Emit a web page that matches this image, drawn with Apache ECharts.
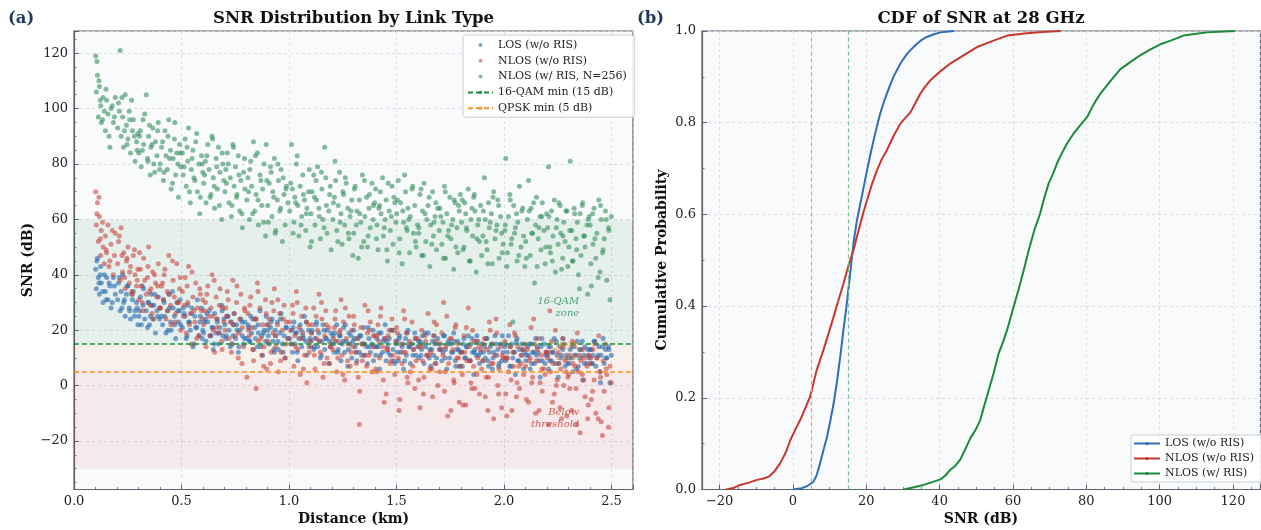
<!DOCTYPE html>
<html>
<head>
<meta charset="utf-8">
<script src="https://cdn.jsdelivr.net/npm/echarts@6/dist/echarts.min.js"></script>
<style>html,body{margin:0;padding:0;background:#fff}#c{width:1261px;height:530px}</style>
</head>
<body>
<div id="c"></div>
<script>
// ---------------- DATA ----------------
// Batch 1 of sampled links: distance (km) and SNR (dB) for each link type
const distanceKm = [
0.101,0.104,0.109,0.113,0.118,0.124,0.127,0.135,0.141,0.146,0.152,0.158,0.167,0.172,0.183,0.192,
0.203,0.207,0.215,0.219,0.226,0.231,0.238,0.244,0.251,0.257,0.263,0.272,0.276,0.284,0.291,0.297,
0.302,0.309,0.313,0.321,0.324,0.336,0.342,0.347,0.355,0.358,0.366,0.371,0.379,0.386,0.392,0.398,
0.401,0.412,0.416,0.423,0.428,0.434,0.441,0.449,0.452,0.461,0.467,0.473,0.478,0.486,0.491,0.496,
0.504,0.508,0.517,0.522,0.529,0.533,0.541,0.546,0.553,0.562,0.566,0.574,0.581,0.585,0.593,0.599,
0.603,0.611,0.614,0.622,0.628,0.637,0.642,0.648,0.654,0.661,0.667,0.672,0.679,0.687,0.692,0.697,
0.702,0.706,0.713,0.721,0.727,0.732,0.739,0.745,0.751,0.756,0.764,0.771,0.776,0.783,0.789,0.795,
0.804,0.809,0.816,0.822,0.826,0.835,0.841,0.847,0.853,0.858,0.865,0.873,0.877,0.884,0.891,0.897,
0.901,0.908,0.914,0.921,0.925,0.932,0.938,0.946,0.951,0.957,0.963,0.969,0.977,0.982,0.988,0.995,
1.003,1.012,1.016,1.023,1.027,1.034,1.041,1.046,1.052,1.059,1.064,1.072,1.078,1.083,1.091,1.098,
1.102,1.107,1.115,1.121,1.128,1.133,1.139,1.146,1.153,1.158,1.166,1.171,1.177,1.185,1.189,1.196,
1.204,1.211,1.217,1.222,1.229,1.235,1.242,1.247,1.254,1.259,1.266,1.273,1.279,1.284,1.292,1.297,
1.301,1.308,1.316,1.322,1.327,1.334,1.341,1.348,1.353,1.361,1.365,1.372,1.378,1.386,1.391,1.398,
1.403,1.409,1.414,1.421,1.428,1.435,1.439,1.447,1.452,1.458,1.466,1.471,1.479,1.484,1.492,1.497,
1.501,1.508,1.515,1.519,1.526,1.533,1.542,1.546,1.553,1.561,1.564,1.572,1.579,1.585,1.591,1.598,
1.604,1.609,1.617,1.621,1.628,1.636,1.641,1.647,1.655,1.659,1.668,1.672,1.679,1.686,1.692,1.699,
1.702,1.711,1.716,1.723,1.728,1.734,1.742,1.748,1.753,1.762,1.766,1.773,1.781,1.785,1.792,1.797,
1.803,1.806,1.814,1.822,1.827,1.834,1.839,1.846,1.854,1.859,1.865,1.871,1.878,1.886,1.891,1.896,
1.902,1.909,1.913,1.921,1.928,1.932,1.941,1.946,1.952,1.958,1.967,1.971,1.977,1.984,1.989,1.996,
2.004,2.008,2.016,2.021,2.027,2.036,2.041,2.045,2.053,2.061,2.064,2.072,2.079,2.083,2.091,2.097,
2.101,2.109,2.114,2.122,2.126,2.133,2.142,2.147,2.151,2.159,2.168,2.172,2.178,2.186,2.191,2.198,
2.203,2.207,2.216,2.221,2.228,2.234,2.239,2.247,2.252,2.261,2.264,2.273,2.278,2.284,2.292,2.297,
2.302,2.308,2.315,2.321,2.326,2.335,2.341,2.346,2.354,2.358,2.366,2.371,2.377,2.386,2.389,2.396,
2.401,2.406,2.414,2.419,2.427,2.432,2.441,2.446,2.452,2.461,2.466,2.472,2.478,2.486,2.493,2.499
];
const snrLOS = [
42,35,46,39,33,43,37,30,40,34,39,31,36,28,39,33,
31,37,27,34,40,30,25,33,36,28,24,31,34,27,30,22,
25,32,22,29,35,27,21,30,25,33,24,29,19,27,32,24,
28,22,31,25,19,27,33,23,20,28,25,17,30,23,27,22,
21,28,25,17,29,23,20,26,14,25,21,31,18,23,28,20,
19,24,16,23,27,18,21,13,26,19,23,15,21,29,18,24,
22,17,25,20,14,23,18,26,17,22,12,20,24,18,15,23,
17,22,16,25,19,13,21,24,14,19,27,18,11,20,16,22,
20,15,21,24,16,12,18,23,13,19,26,15,18,10,21,17,
17,20,12,23,15,19,9,17,22,14,18,25,16,11,20,17,
16,20,13,17,23,14,19,10,16,22,13,17,20,8,16,19,
18,12,16,22,13,18,9,15,21,12,16,7,19,15,10,16,
20,14,9,17,12,18,15,21,11,14,8,17,12,15,20,14,
11,17,14,6,19,12,16,22,9,14,17,11,20,13,8,15,
16,9,18,12,14,6,17,11,20,14,8,15,13,19,11,14,
10,16,13,18,8,14,11,19,13,7,16,11,15,10,17,13,
15,9,12,18,13,6,16,10,15,12,19,9,13,16,7,12,
12,7,17,10,14,18,9,15,12,4,13,11,16,8,12,15,
9,14,10,17,7,12,15,6,12,18,11,13,8,15,9,12,
14,9,12,18,7,15,10,12,4,17,9,13,11,15,6,12,
9,14,11,6,15,12,8,17,11,12,3,14,9,15,8,12,
11,6,14,9,12,17,8,11,3,14,10,13,15,7,11,8,
8,13,10,5,14,11,16,7,10,13,2,11,14,8,13,10,
13,8,11,16,7,10,14,5,11,17,8,13,10,14,1,11
];
const snrNLOS = [
70,58,66,52,61,47,56,50,44,54,48,58,45,51,40,55,
44,52,38,57,41,48,35,45,50,37,43,33,47,40,36,42,
31,42,36,27,46,33,39,50,29,35,41,24,37,32,44,28,
28,37,31,42,24,34,47,29,22,38,32,26,44,30,35,20,
34,25,39,19,30,43,26,15,32,23,37,28,18,35,27,31,
22,30,14,36,25,28,40,20,12,32,24,19,35,16,28,23,
20,28,34,17,23,12,38,26,18,30,10,24,33,21,14,27,
3,26,18,32,21,9,24,-1,37,16,28,11,22,14,31,6,
16,24,8,30,19,35,14,22,5,26,12,20,29,10,23,17,
23,15,29,7,18,34,13,21,4,25,19,11,28,1,22,16,
14,22,28,6,17,20,33,12,24,3,18,27,10,21,8,15,
13,21,27,5,16,19,31,11,23,2,17,9,25,7,20,14,
25,12,17,3,-14,21,9,15,29,7,19,11,23,5,14,18,
6,18,22,10,28,14,2,17,-3,13,20,8,24,11,4,16,
21,10,-5,15,8,27,12,19,1,16,5,23,13,-1,9,17,
14,-8,20,9,3,16,11,26,6,12,-4,18,8,22,0,15,
5,19,11,-2,14,25,8,17,-9,13,2,21,10,15,-6,7,
12,4,18,-7,9,28,14,1,20,7,-1,16,10,-3,13,6,
9,17,-4,13,3,23,8,15,-12,11,19,0,6,14,-8,10,
16,-3,10,5,22,-9,12,7,18,1,14,-1,8,11,4,15,
7,13,-6,10,21,3,15,-10,9,17,1,11,-2,6,4,12,
10,-14,5,16,8,-3,20,2,12,-8,6,14,0,9,-11,3,
4,11,-9,8,15,-1,19,5,-17,9,13,2,-4,7,-12,11,
8,-5,13,2,-10,10,18,5,-13,9,-2,15,4,-15,7,1
];
const snrRIS = [
119,106,112,97,108,101,95,104,99,92,103,98,86,100,95,104,
93,102,121,90,97,86,105,94,89,99,84,92,96,81,88,91,
84,92,79,96,87,105,82,90,76,86,93,80,88,83,95,78,
80,88,74,92,83,78,96,85,71,82,89,76,84,68,87,79,
84,76,89,72,81,93,66,78,85,74,88,70,80,62,83,77,
73,81,66,87,78,69,90,75,64,82,71,86,77,60,80,74,
70,78,84,66,75,61,87,72,79,68,83,63,74,57,77,71,
67,75,60,81,72,88,63,69,84,58,76,65,71,80,54,74,
65,73,79,61,70,82,56,67,74,63,78,52,69,58,72,66,
63,87,71,59,68,80,65,54,72,61,76,67,56,64,70,50,
62,70,76,58,67,79,64,53,71,60,86,75,55,63,69,49,
60,68,74,56,65,77,62,51,69,58,73,64,53,61,67,47,
55,72,63,46,67,59,76,52,61,68,50,64,57,73,60,66,
71,58,49,65,62,75,54,60,67,45,63,56,72,51,66,59,
62,74,53,66,44,59,70,57,64,48,61,71,55,65,50,58,
57,69,47,63,73,52,60,65,43,58,70,54,61,49,64,56,
64,51,59,72,46,62,56,68,53,60,42,66,57,48,63,69,
59,67,50,62,56,71,45,60,54,68,63,41,58,52,65,47,
54,75,60,49,66,57,62,44,70,53,58,67,46,61,55,51,
56,82,48,61,69,53,23,65,57,45,59,72,50,63,54,43,
52,60,74,47,64,55,37,58,68,53,61,49,66,56,44,62,
57,79,48,63,54,67,41,60,51,65,55,46,59,52,63,43,
50,81,56,45,64,53,59,40,62,47,66,54,50,58,33,61,
58,36,51,64,46,55,67,41,60,49,53,63,38,57,31,61
];
// Batch 2 of sampled links
const distanceKm2 = [
0.106,0.116,0.122,0.133,0.149,0.163,0.178,0.188,
0.211,0.223,0.235,0.247,0.259,0.268,0.281,0.294,
0.305,0.318,0.329,0.344,0.351,0.363,0.375,0.389,
0.407,0.419,0.437,0.444,0.458,0.469,0.483,0.494,
0.512,0.526,0.537,0.549,0.558,0.571,0.588,0.596,
0.607,0.618,0.633,0.645,0.652,0.664,0.676,0.689,
0.709,0.717,0.735,0.742,0.758,0.767,0.781,0.793,
0.812,0.818,0.831,0.844,0.856,0.869,0.882,0.894,
0.904,0.917,0.929,0.936,0.948,0.961,0.973,0.986,
1.008,1.019,1.031,1.038,1.056,1.067,1.081,1.094,
1.105,1.118,1.126,1.141,1.151,1.163,1.174,1.192,
1.207,1.214,1.227,1.238,1.251,1.262,1.276,1.288,
1.304,1.313,1.329,1.338,1.351,1.368,1.374,1.393,
1.407,1.418,1.425,1.443,1.455,1.461,1.476,1.488,
1.504,1.512,1.529,1.538,1.549,1.557,1.576,1.588,
1.603,1.614,1.625,1.633,1.652,1.664,1.675,1.683,
1.706,1.719,1.727,1.738,1.756,1.768,1.776,1.789,
1.809,1.817,1.825,1.843,1.851,1.862,1.874,1.883,
1.904,1.917,1.925,1.936,1.949,1.963,1.975,1.992,
2.006,2.013,2.029,2.033,2.049,2.058,2.069,2.087,
2.104,2.117,2.129,2.138,2.154,2.163,2.176,2.194,
2.209,2.213,2.225,2.243,2.255,2.268,2.274,2.289,
2.306,2.318,2.329,2.338,2.351,2.364,2.374,2.392,
2.404,2.412,2.423,2.438,2.449,2.458,2.475,2.488
];
const snrLOS2 = [
45,37,40,34,31,37,30,36,
39,28,31,36,27,33,25,28,
27,36,24,30,22,29,33,25,
25,30,20,28,34,22,27,31,
26,18,23,28,15,21,25,17,
23,26,18,21,15,24,19,27,
18,25,15,22,20,14,23,17,
21,16,24,17,22,14,19,25,
18,23,13,20,16,24,12,21,
15,21,19,12,20,17,23,14,
19,14,22,16,11,20,17,14,
15,19,12,18,16,22,13,18,
17,12,18,11,15,21,14,9,
14,19,11,17,16,12,20,9,
12,17,15,9,19,14,11,17,
16,11,15,19,10,13,18,8,
13,18,10,15,12,16,7,13,
15,10,14,9,17,12,18,11,
12,17,9,14,10,15,7,18,
15,10,14,7,12,16,9,13,
11,15,8,12,14,9,17,11,
14,9,12,16,8,11,17,10,
10,14,11,6,13,16,8,11,
13,8,16,11,1,14,10,13
];
const snrNLOS2 = [
62,68,53,59,49,43,56,47,
54,47,39,46,41,34,49,38,
48,30,38,43,34,26,40,36,
36,40,27,33,45,23,30,39,
29,36,22,41,27,17,33,24,
27,33,18,25,38,21,29,13,
25,31,15,22,36,19,8,28,
20,29,13,24,34,17,7,26,
22,12,27,18,31,9,24,15,
20,26,14,30,17,6,23,12,
19,11,25,16,30,8,22,14,
17,24,10,20,4,28,15,12,
22,8,-2,15,11,27,20,18,
5,16,25,-6,13,18,9,20,
19,-9,12,24,3,15,7,17,
2,14,-3,18,11,6,23,16,
13,30,5,-11,17,1,22,10,
-7,12,21,9,-1,16,4,14,
15,3,-9,20,8,24,-3,11,
10,-11,14,2,19,-4,7,13,
-5,9,1,24,13,-9,6,12,
12,27,-6,0,8,-12,17,5,
-1,16,7,-14,11,4,10,-7,
10,-2,15,-12,3,-18,6,-8
];
const snrRIS2 = [
117,110,103,96,107,90,101,97,
99,104,92,87,96,103,90,85,
90,85,98,81,94,87,77,92,
86,77,90,82,73,95,80,84,
79,86,70,82,75,91,68,80,
76,83,68,89,72,79,65,84,
73,80,65,86,69,76,62,82,
70,78,62,83,67,74,59,87,
59,77,68,55,80,64,75,71,
73,55,66,83,58,69,62,78,
52,68,74,61,77,57,65,72,
66,81,52,59,70,75,55,63,
71,58,62,50,74,54,69,65,
53,64,70,57,49,73,61,68,
67,48,63,76,56,60,72,52,
55,71,47,62,68,51,59,66,
61,46,70,54,58,67,50,65,
49,66,57,45,64,69,53,60,
63,52,44,59,68,56,65,48,
58,43,67,51,55,62,47,64,
46,63,55,66,43,57,61,50,
61,50,45,57,66,42,54,63,
56,45,62,49,35,65,54,60,
44,62,53,39,65,48,60,56
];
// CDF readings: [SNR dB, cumulative probability]
const cdfLOS = [[0,0],[2,0.002],[3.8,0.007],[5.6,0.017],[6.5,0.032],[7.4,0.057],[8.3,0.085],[9.3,0.115],[10.2,0.15],[11.1,0.188],[12,0.235],[12.9,0.29],[13.8,0.35],[14.7,0.406],[15.6,0.47],[16.5,0.537],[17.4,0.585],[18.4,0.624],[19.3,0.66],[20.2,0.696],[21.1,0.73],[22,0.762],[22.9,0.792],[23.8,0.82],[24.7,0.843],[25.6,0.863],[26.5,0.882],[27.4,0.9],[29.3,0.929],[31.1,0.95],[32.5,0.962],[33.8,0.972],[35,0.98],[36.5,0.987],[38.5,0.993],[40.2,0.997],[44,1]];
const cdfNLOS = [[-18.2,0],[-16,0.004],[-14.4,0.01],[-12,0.015],[-9.8,0.021],[-8,0.024],[-6.6,0.028],[-5,0.04],[-3.5,0.057],[-2,0.08],[-0.7,0.108],[0.6,0.13],[2,0.152],[3.4,0.178],[4.7,0.203],[5.6,0.232],[6.5,0.261],[8.3,0.304],[9.7,0.34],[11.1,0.377],[12.5,0.415],[13.8,0.45],[15.2,0.49],[16.5,0.522],[17.4,0.55],[18.4,0.58],[19.3,0.607],[20.2,0.631],[21.5,0.665],[22.9,0.696],[24.2,0.72],[25.6,0.74],[27.5,0.772],[29.3,0.798],[30.6,0.81],[32,0.822],[33.4,0.843],[34.7,0.863],[36,0.878],[37.4,0.892],[40.2,0.912],[42.9,0.929],[46.5,0.947],[50.2,0.965],[54.7,0.979],[58.4,0.99],[63.8,0.995],[68,0.998],[73,1]];
const cdfRIS = [[30.2,0],[33,0.005],[35.6,0.01],[38,0.016],[40.2,0.022],[41.5,0.03],[42.9,0.043],[44.3,0.052],[45.6,0.065],[47,0.088],[48.4,0.112],[49.8,0.13],[51.1,0.152],[52,0.178],[52.9,0.203],[53.8,0.228],[54.7,0.253],[56.1,0.297],[57.3,0.322],[58.4,0.348],[60.2,0.399],[62,0.45],[63.2,0.487],[64.3,0.522],[65.8,0.565],[67.4,0.602],[68.5,0.635],[69.7,0.667],[71,0.69],[72,0.711],[73.3,0.733],[74.7,0.754],[76.5,0.776],[78.3,0.794],[80.2,0.812],[82,0.84],[83.8,0.863],[86.5,0.89],[89.3,0.917],[92,0.932],[94.7,0.947],[97.5,0.96],[100.2,0.971],[103,0.979],[106.5,0.99],[110,0.994],[112.9,0.997],[120.5,1]];
const thresholdQAM16 = 15;
const thresholdQPSK = 5;
const zoneBounds = [[15, 60], [5, 15], [-30, 5]];
const zoneLabels = ['16-QAM\nzone', 'QPSK\nzone', 'Below\nthreshold'];
const zoneLabelSnr = [28.3, 12.1, -11.9];
const zoneLabelKm = 2.35;
const seriesNames = ['LOS (w/o RIS)', 'NLOS (w/o RIS)', 'NLOS (w/ RIS, N=256)'];
const cdfNames = ['LOS (w/o RIS) ', 'NLOS (w/o RIS) ', 'NLOS (w/ RIS)'];
const thresholdNames = ['16-QAM min (15 dB)', 'QPSK min (5 dB)'];

// ---------------- STYLE ----------------
const FONT = 'DejaVu Serif';
const AX = '#5b6470';
const C_BLUE = '#2a6aae', C_RED = '#c8423a', C_GREEN = '#2e8b57';
const C_CDF = ['#2f6db5', '#c8372d', '#1d8a3a'];
const C_QAM = '#1e8a3c', C_QPSK = '#f28e2b';
const zoneColors = ['rgba(46,139,87,0.09)', 'rgba(255,127,14,0.07)', 'rgba(214,39,40,0.08)'];
const noteColors = ['#2e8b57', '#e8892f', '#c0392b'];

const minus = s => String(s).replace('-', '\u2212');
const onStep = (v, step) => Math.abs(v / step - Math.round(v / step)) < 1e-6;

function axisBase() {
  return {
    type: 'value',
    axisLine: { show: true, onZero: false, lineStyle: { color: AX, width: 1.2 } },
    axisTick: { show: true, inside: true, length: 5, lineStyle: { color: AX, width: 1 } },
    minorTick: { show: true, length: 2.5, lineStyle: { color: AX, width: 0.8 } },
    splitLine: { show: true, lineStyle: { color: '#d3d8de', width: 0.8, type: [3, 3] } },
    minorSplitLine: { show: false },
    axisLabel: { color: '#222', fontFamily: FONT, fontSize: 13, margin: 6 }
  };
}

const xA = Object.assign(axisBase(), { gridIndex: 0, min: 0, max: 2.6, interval: 0.5 });
xA.minorTick.splitNumber = 5;
xA.axisLabel.formatter = v => onStep(v, 0.5) ? v.toFixed(1) : '';
const yA = Object.assign(axisBase(), { gridIndex: 0, min: -37.5, max: 128, splitNumber: 8 });
yA.minorTick.splitNumber = 4;
yA.axisLabel.formatter = v => onStep(v, 20) ? minus(Math.round(v)) : '';
const xB = Object.assign(axisBase(), { gridIndex: 1, min: -24.8, max: 127.5, splitNumber: 8 });
xB.minorTick.splitNumber = 4;
xB.axisLabel.formatter = v => onStep(v, 20) ? minus(Math.round(v)) : '';
const yB = Object.assign(axisBase(), { gridIndex: 1, min: 0, max: 1, interval: 0.2 });
yB.minorTick.splitNumber = 2;
yB.axisLabel.formatter = v => v.toFixed(1);

const pts = (ys, ys2) => distanceKm.map((d, i) => [d, ys[i]]).concat(distanceKm2.map((d, i) => [d, ys2[i]]));

function scatter(name, ys, ys2, color, op) {
  return {
    type: 'scatter', name, xAxisIndex: 0, yAxisIndex: 0, data: pts(ys, ys2),
    symbolSize: 5, silent: true, z: 3,
    itemStyle: { color, opacity: op }
  };
}

function thresholdSeries(name, value, color) {
  return {
    type: 'line', name, xAxisIndex: 0, yAxisIndex: 0, data: [], symbol: 'none', z: 6,
    lineStyle: { color, width: 1.6, type: [5, 3] },
    itemStyle: { color },
    markLine: {
      silent: true, symbol: 'none', z: 6, animation: false,
      label: { show: false },
      lineStyle: { color, width: 1.6, type: [5, 3] },
      data: [{ yAxis: value }]
    }
  };
}

const series = [
  {
    type: 'line', name: 'zones', xAxisIndex: 0, yAxisIndex: 0, data: [], z: 1, silent: true,
    markArea: {
      silent: true, z: 1, animation: false,
      data: zoneBounds.map((b, i) => [{ yAxis: b[0], itemStyle: { color: zoneColors[i] } }, { yAxis: b[1] }])
    }
  },
  scatter(seriesNames[0], snrLOS, snrLOS2, C_BLUE, 0.62),
  scatter(seriesNames[1], snrNLOS, snrNLOS2, C_RED, 0.58),
  scatter(seriesNames[2], snrRIS, snrRIS2, C_GREEN, 0.58),
  thresholdSeries(thresholdNames[0], thresholdQAM16, C_QAM),
  thresholdSeries(thresholdNames[1], thresholdQPSK, C_QPSK),
  {
    type: 'scatter', name: 'notes', xAxisIndex: 0, yAxisIndex: 0, silent: true, symbolSize: 0, z: 7,
    data: zoneLabels.map((t, i) => ({ value: [zoneLabelKm, zoneLabelSnr[i]], label: { formatter: t, color: noteColors[i] } })),
    label: { show: true, position: 'left', distance: 0, fontFamily: FONT, fontStyle: 'italic', fontSize: 10, lineHeight: 11.5, align: 'right', verticalAlign: 'middle' }
  },
  {
    type: 'line', name: 'vlines', xAxisIndex: 1, yAxisIndex: 1, data: [], z: 2, silent: true,
    markLine: {
      silent: true, symbol: 'none', animation: false, label: { show: false },
      data: [
        { xAxis: thresholdQPSK, lineStyle: { color: '#f0a05c', width: 1.2, type: [4, 3] } },
        { xAxis: thresholdQAM16, lineStyle: { color: '#78c090', width: 1.2, type: [4, 3] } }
      ]
    }
  }
].concat([cdfLOS, cdfNLOS, cdfRIS].map((d, i) => ({
  type: 'line', name: cdfNames[i], xAxisIndex: 1, yAxisIndex: 1, data: d,
  symbol: 'none', smooth: false, z: 4, silent: true,
  lineStyle: { color: C_CDF[i], width: 2 }, itemStyle: { color: C_CDF[i] }
})));

const legendText = { fontFamily: FONT, fontSize: 11, color: '#222', lineHeight: 13 };

const option = {
  animation: false,
  backgroundColor: '#ffffff',
  textStyle: { fontFamily: FONT },
  grid: [
    { left: 74, top: 31, width: 559, height: 458.5, show: true, backgroundColor: '#f8fafc', borderColor: AX, borderWidth: 1.2, outerBoundsMode: 'none', containLabel: false },
    { left: 702, top: 31, width: 558.5, height: 458.5, show: true, backgroundColor: '#f8fafc', borderColor: AX, borderWidth: 1.2, outerBoundsMode: 'none', containLabel: false }
  ],
  xAxis: [xA, xB],
  yAxis: [yA, yB],
  legend: [
    {
      data: seriesNames.concat(thresholdNames), orient: 'vertical', left: 463, top: 35,
      padding: [3.5, 8, 2.5, 4], itemGap: 2.8, itemWidth: 25, itemHeight: 4,
      selectedMode: false, textStyle: legendText,
      backgroundColor: 'rgba(255,255,255,0.85)', borderColor: '#c9cdd3', borderWidth: 1, borderRadius: 3
    },
    {
      data: cdfNames, orient: 'vertical', left: 1131, top: 435,
      padding: [2, 6, 2, 2], itemGap: 2, itemWidth: 26, itemHeight: 4,
      selectedMode: false, textStyle: legendText,
      backgroundColor: 'rgba(255,255,255,0.85)', borderColor: '#c9cdd3', borderWidth: 1, borderRadius: 3
    }
  ],
  graphic: [
    { type: 'text', x: 8, y: 18.5, style: { text: '(a)', font: 'bold 16.5px "DejaVu Serif"', fill: '#1f3a5f', textAlign: 'left', textVerticalAlign: 'middle', align: 'left', verticalAlign: 'middle' } },
    { type: 'text', x: 637, y: 18.5, style: { text: '(b)', font: 'bold 16.5px "DejaVu Serif"', fill: '#1f3a5f', textAlign: 'left', textVerticalAlign: 'middle', align: 'left', verticalAlign: 'middle' } },
    { type: 'text', x: 353.5, y: 18.5, style: { text: 'SNR Distribution by Link Type', font: 'bold 16.5px "DejaVu Serif"', fill: '#111', textAlign: 'center', textVerticalAlign: 'middle', align: 'center', verticalAlign: 'middle' } },
    { type: 'text', x: 981, y: 18.5, style: { text: 'CDF of SNR at 28 GHz', font: 'bold 16.5px "DejaVu Serif"', fill: '#111', textAlign: 'center', textVerticalAlign: 'middle', align: 'center', verticalAlign: 'middle' } },
    { type: 'text', x: 353.5, y: 519, style: { text: 'Distance (km)', font: 'bold 14px "DejaVu Serif"', fill: '#111', textAlign: 'center', textVerticalAlign: 'middle', align: 'center', verticalAlign: 'middle' } },
    { type: 'text', x: 981, y: 519, style: { text: 'SNR (dB)', font: 'bold 14px "DejaVu Serif"', fill: '#111', textAlign: 'center', textVerticalAlign: 'middle', align: 'center', verticalAlign: 'middle' } },
    { type: 'text', x: 28.5, y: 260, rotation: Math.PI / 2, style: { text: 'SNR (dB)', font: 'bold 14px "DejaVu Serif"', fill: '#111', textAlign: 'center', textVerticalAlign: 'middle', align: 'center', verticalAlign: 'middle' } },
    { type: 'text', x: 662.5, y: 260, rotation: Math.PI / 2, style: { text: 'Cumulative Probability', font: 'bold 14px "DejaVu Serif"', fill: '#111', textAlign: 'center', textVerticalAlign: 'middle', align: 'center', verticalAlign: 'middle' } }
  ],
  series
};

const chart = echarts.init(document.getElementById('c'), null, { renderer: 'canvas', width: 1261, height: 530 });
chart.setOption(option);
</script>
</body>
</html>
